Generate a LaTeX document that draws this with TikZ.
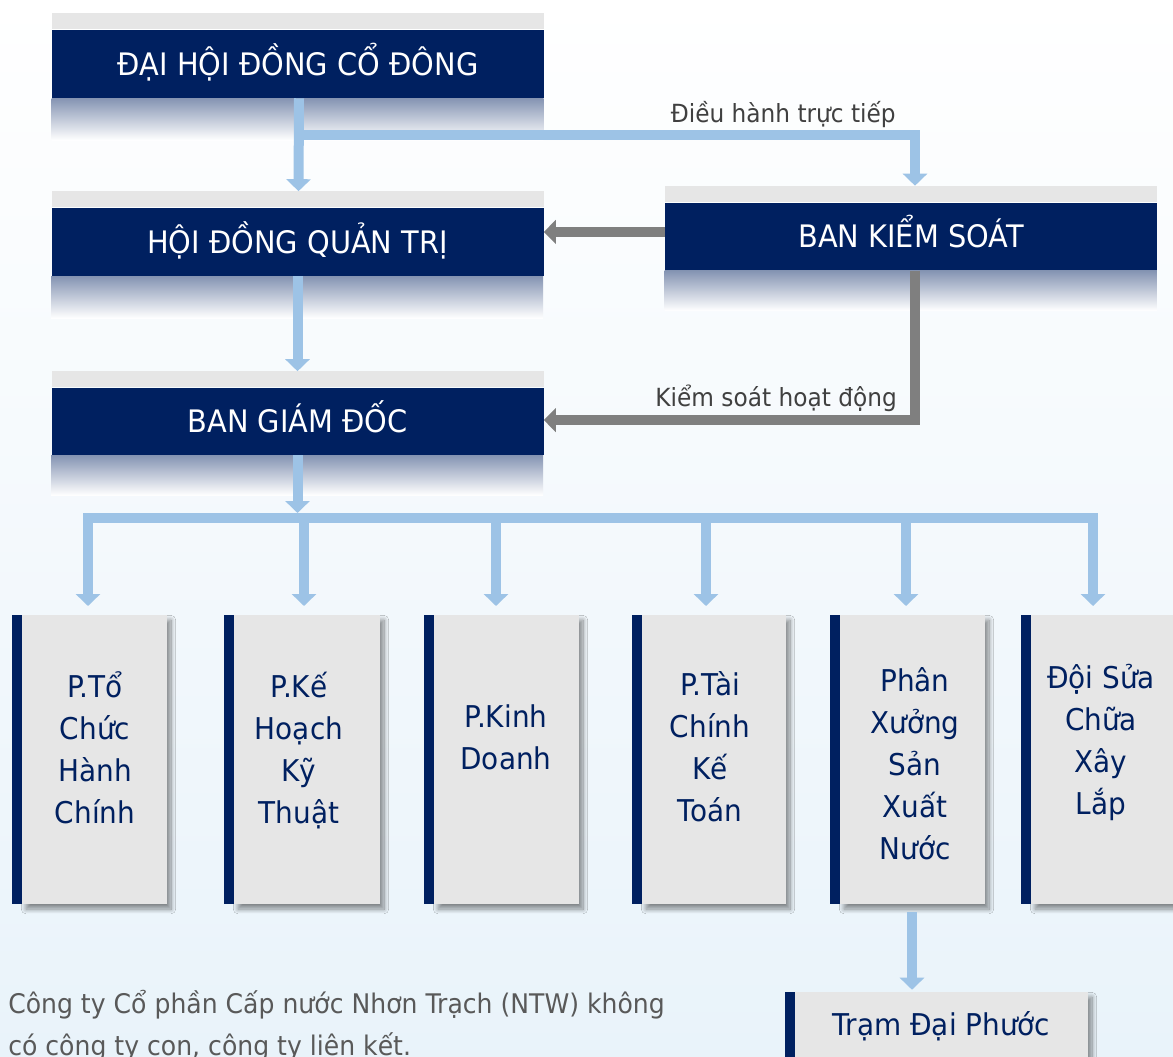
\documentclass[tikz,border=0pt]{standalone}
\usepackage{fontspec}
\setmainfont{DejaVu Sans}[FakeStretch=0.93]
\usetikzlibrary{arrows.meta,shadows.blur}
\definecolor{navy}{RGB}{0,32,96}
\definecolor{bandgrey}{RGB}{230,230,230}
\definecolor{deptgrey}{RGB}{230,230,230}
\definecolor{arrblue}{RGB}{157,195,230}
\definecolor{arrgrey}{RGB}{127,127,127}
\definecolor{lblgrey}{RGB}{64,64,64}
\definecolor{notegrey}{RGB}{89,89,89}
\definecolor{bgbottom}{RGB}{233,243,250}
\newcommand\hdrfont{\fontsize{23.25pt}{28pt}\selectfont}
\newcommand\deptfont{\fontsize{22.5pt}{31.5pt}\selectfont}
\newcommand\lblfont{\fontsize{18.75pt}{22pt}\selectfont}
\newcommand\notefont{\fontsize{20.25pt}{31.5pt}\selectfont}
\tikzset{
  hdr/.style={fill=navy, text=white, minimum width=369pt, minimum height=51pt,
    inner sep=0pt, text height=17pt, text depth=0pt, font=\hdrfont},
  band/.style={fill=bandgrey, minimum width=369pt, minimum height=12pt, inner sep=0pt},
  fadeshade/.style={top color=navy!48!white, bottom color=white},
  barrow/.style={draw=arrblue, line width=7.5pt, -{Triangle[width=18pt,length=9pt]}},
  bline/.style={draw=arrblue, line width=7.5pt},
  garrow/.style={draw=arrgrey, line width=7.5pt, -{Triangle[width=17.5pt,length=9pt]}},
  lbl/.style={text=lblgrey, font=\lblfont, inner sep=0pt},
  dept/.style={fill=deptgrey, minimum height=216.75pt, inner sep=0pt,
    blur shadow={shadow xshift=3pt, shadow yshift=-3.8pt, shadow blur radius=3.5pt,
      shadow blur steps=12, shadow opacity=45}},
  depttext/.style={text=navy, font=\deptfont, align=center, inner sep=0pt, anchor=north},
}
\begin{document}
\begin{tikzpicture}[x=0.75pt, y=-0.75pt]
\useasboundingbox (0,0) rectangle (1173,1056);
\clip (0,0) rectangle (1173,1056);
\shade[top color=white, bottom color=bgbottom] (0,0) rectangle (1173,1056);

% headers
\node[hdr] (dhd) at (298,64) {ĐẠI HỘI ĐỒNG CỔ ĐÔNG};
\node[band, anchor=south] (dhdTop) at (dhd.north) {};
\shade[fadeshade] (dhd.south west) rectangle ++(492,42);

\node[hdr] (hdqt) at (297.5,242) {HỘI ĐỒNG QUẢN TRỊ};
\node[band, anchor=south] (hdqtTop) at (hdqt.north) {};
\shade[fadeshade] (hdqt.south west) rectangle ++(492,42);

\node[hdr] (bks) at (911,236.5) {BAN KIỂM SOÁT};
\node[band, anchor=south] (bksTop) at (bks.north) {};
\shade[fadeshade] (bks.south west) rectangle ++(492,40);

\node[hdr, minimum height=50.25pt] (bgd) at (297.5,421.5) {BAN GIÁM ĐỐC};
\node[band, anchor=south] (bgdTop) at (bgd.north) {};
\shade[fadeshade] (bgd.south west) rectangle ++(492,40);

% blue arrows (top part)
\draw[barrow] ([xshift=0.75pt]dhd.south) -- ([xshift=0.75pt]hdqtTop.north);
\path ([xshift=0.75pt]dhd.south) ++(0,36.5) coordinate (br);
\draw[barrow] (br) -| ([xshift=3pt]bksTop.north);
\draw[barrow] (hdqt.south) -- (bgdTop.north);

% grey arrows
\draw[garrow] ([yshift=3.4pt]bks.west) -- ([yshift=3.4pt]bks.west -| hdqt.east);
\draw[garrow] ([xshift=3pt]bks.south) |- ([yshift=1.1pt]bgd.east);

% labels
\node[lbl, anchor=base east] (l1) at (896,122) {Điều hành trực tiếp};
\node[lbl, anchor=base east] (l2) at (897,406) {Kiểm soát hoạt động};

% department boxes
\node[dept, minimum width=108.75pt] (d1) at (94.5,759.5) {};
\node[dept, minimum width=109.5pt] (d2) at (307,759.5) {};
\node[dept, minimum width=108.75pt] (d3) at (506.5,759.5) {};
\node[dept, minimum width=108pt] (d4) at (714,759.5) {};
\node[dept, minimum width=108.75pt] (d5) at (912.5,759.5) {};
\node[dept, minimum width=108.75pt] (d6) at (1103.5,759.5) {};
\foreach \d in {d1,d2,d3,d4,d5,d6}{
  \fill[navy] ([xshift=-7.5pt]\d.north west) rectangle (\d.south west);
}

% bar and department arrows
\coordinate (barL) at (83,518);
\coordinate (barR) at (1098,518);
\draw[barrow, shorten >=3.75pt] (bgd.south) -- (bgd.south |- barL);
\draw[bline] (barL) -- (barR);
\foreach \x in {88,304,496,706,906,1093}{
  \draw[barrow, shorten >=6.75pt] (\x,518) -- (\x,615);
}

% department texts
\node[depttext] (t1) at (95,667.6) {\strut P.Tổ\\\strut Chức\\\strut Hành\\\strut Chính};
\node[depttext] (t2) at (299,667.6) {\strut P.Kế\\\strut Hoạch\\\strut Kỹ\\\strut Thuật};
\node[depttext] (t3) at (506,697.6) {\strut P.Kinh\\\strut Doanh};
\node[depttext] (t4) at (710,665.6) {\strut P.Tài\\\strut Chính\\\strut Kế\\\strut Toán};
\node[depttext] (t5) at (915,661.6) {\strut Phân\\\strut Xưởng\\\strut Sản\\\strut Xuất\\\strut Nước};
\node[depttext] (t6) at (1101,658.6) {\strut Đội Sửa\\\strut Chữa\\\strut Xây\\\strut Lắp};

% Tram Dai Phuoc
\node[dept, minimum width=219.75pt, minimum height=66pt, text=navy, font=\deptfont,
      text height=12pt, text depth=13.5pt] (tram) at (941.5,1036) {Trạm Đại Phước};
\fill[navy] ([xshift=-7.5pt]tram.north west) rectangle (tram.south west);
\draw[barrow, shorten <=6pt, shorten >=1.5pt] ([xshift=-0.375pt]d5.south) -- ([xshift=-0.375pt]d5.south |- tram.north);

% note
\node[text=notegrey, font=\notefont, align=left, inner sep=0pt, anchor=north west] (note) at (8,983.6)
  {\strut Công ty Cổ phần Cấp nước Nhơn Trạch (NTW) không\\\strut có công ty con, công ty liên kết.};
\end{tikzpicture}
\end{document}
